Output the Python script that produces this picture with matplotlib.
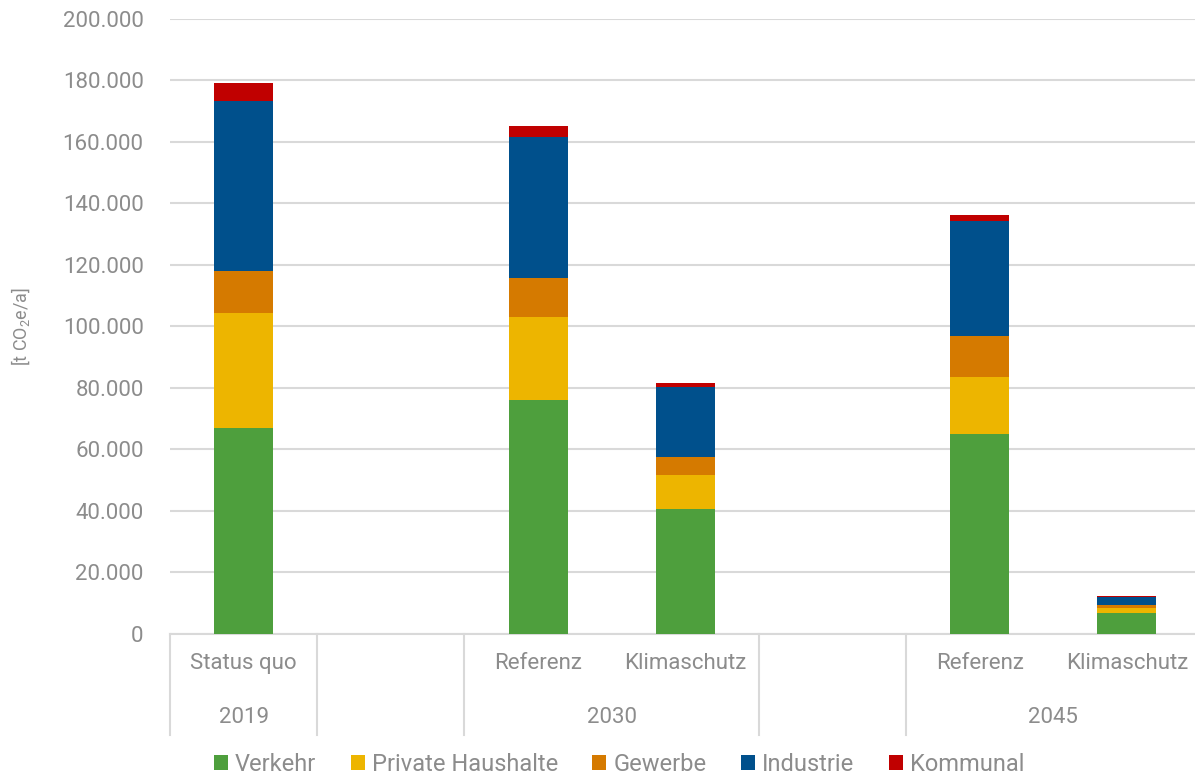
import matplotlib
matplotlib.use("Agg")
import matplotlib.pyplot as plt
import matplotlib.transforms as mtransforms
from matplotlib.patches import Patch
from matplotlib.ticker import FuncFormatter, MultipleLocator

plt.rcParams['font.family'] = ['Roboto', 'DejaVu Sans']
plt.rcParams['mathtext.default'] = 'regular'

# Scenario slots (empty strings are spacer slots between year groups)
scenarios = ["Status quo", "", "Referenz", "Klimaschutz", "", "Referenz", "Klimaschutz"]
years = ["2019", "", "2030", "", "2045"]
# slot index ranges for each year group
year_groups = [(0, 0), (1, 1), (2, 3), (4, 4), (5, 6)]

sectors = ["Verkehr", "Private Haushalte", "Gewerbe", "Industrie", "Kommunal"]
colors = ["#4E9F3D", "#EDB500", "#D57A00", "#00508C", "#C00000"]

# Emissions in t CO2e/a per slot (None = spacer slot)
verkehr   = [67000, None, 76100, 40700, None, 65000, 6900]
haushalte = [37400, None, 26900, 11000, None, 18700, 1400]
gewerbe   = [13600, None, 12900,  5900, None, 13300, 1100]
industrie = [55300, None, 45800, 22700, None, 37300, 2700]
kommunal  = [ 5900, None,  3500,  1300, None,  2000,  400]

series = [verkehr, haushalte, gewerbe, industrie, kommunal]

text_color = "#8C8C8C"
grid_color = "#D9D9D9"

fig = plt.figure(figsize=(11.95, 7.78), dpi=100)
ax = fig.add_axes([0.1423, 0.1851, 1.0046 - 0.1423, 0.9756 - 0.1851])

x_idx = [i for i, s in enumerate(verkehr) if s is not None]
bottoms = [0.0] * len(x_idx)
for vals, col, name in zip(series, colors, sectors):
    heights = [vals[i] for i in x_idx]
    ax.bar(x_idx, heights, width=0.4, bottom=bottoms, color=col, zorder=3,
           label=name)
    bottoms = [b + h for b, h in zip(bottoms, heights)]

ax.set_xlim(-0.5, len(scenarios) - 0.5)
ax.set_ylim(0, 200000)
ax.yaxis.set_major_locator(MultipleLocator(20000))
ax.yaxis.set_major_formatter(
    FuncFormatter(lambda v, p: f"{int(v):,}".replace(",", ".")))
ax.grid(axis="y", color=grid_color, linewidth=1.5, zorder=0)
ax.set_axisbelow(True)
for side in ["top", "right", "left"]:
    ax.spines[side].set_visible(False)
ax.spines["bottom"].set_color(grid_color)
ax.spines["bottom"].set_linewidth(1.5)
ax.tick_params(axis="y", length=0, pad=19, labelsize=16, labelcolor=text_color)
ax.tick_params(axis="x", length=0, labelbottom=False)

ax.set_ylabel("[t CO$_2$e/a]", fontsize=13, color=text_color)
ax.yaxis.set_label_coords(-0.134, 0.5)

# Two-row category axis below the plot
trans = mtransforms.blended_transform_factory(ax.transData, fig.transFigure)
for i, lab in enumerate(scenarios):
    ax.text(i, 0.1478, lab, transform=trans, ha="center", va="center",
            fontsize=16, color=text_color)
for (a, b), yr in zip(year_groups, years):
    ax.text((a + b) / 2, 0.0784, yr, transform=trans, ha="center",
            va="center", fontsize=16, color=text_color)
    ax.plot([a - 0.5, a - 0.5], [0.1851, 0.0553], transform=trans,
            color=grid_color, linewidth=1.5, clip_on=False)

handles = [Patch(facecolor=c, label=n) for c, n in zip(colors, sectors)]
fig.legend(handles=handles, loc="center", bbox_to_anchor=(0.518, 0.017),
           ncol=5, frameon=False, fontsize=17, labelcolor=text_color,
           handlelength=0.6, handleheight=0.6, handletextpad=0.3,
           columnspacing=1.45, borderaxespad=0)

fig.savefig("out.png", dpi=100)
